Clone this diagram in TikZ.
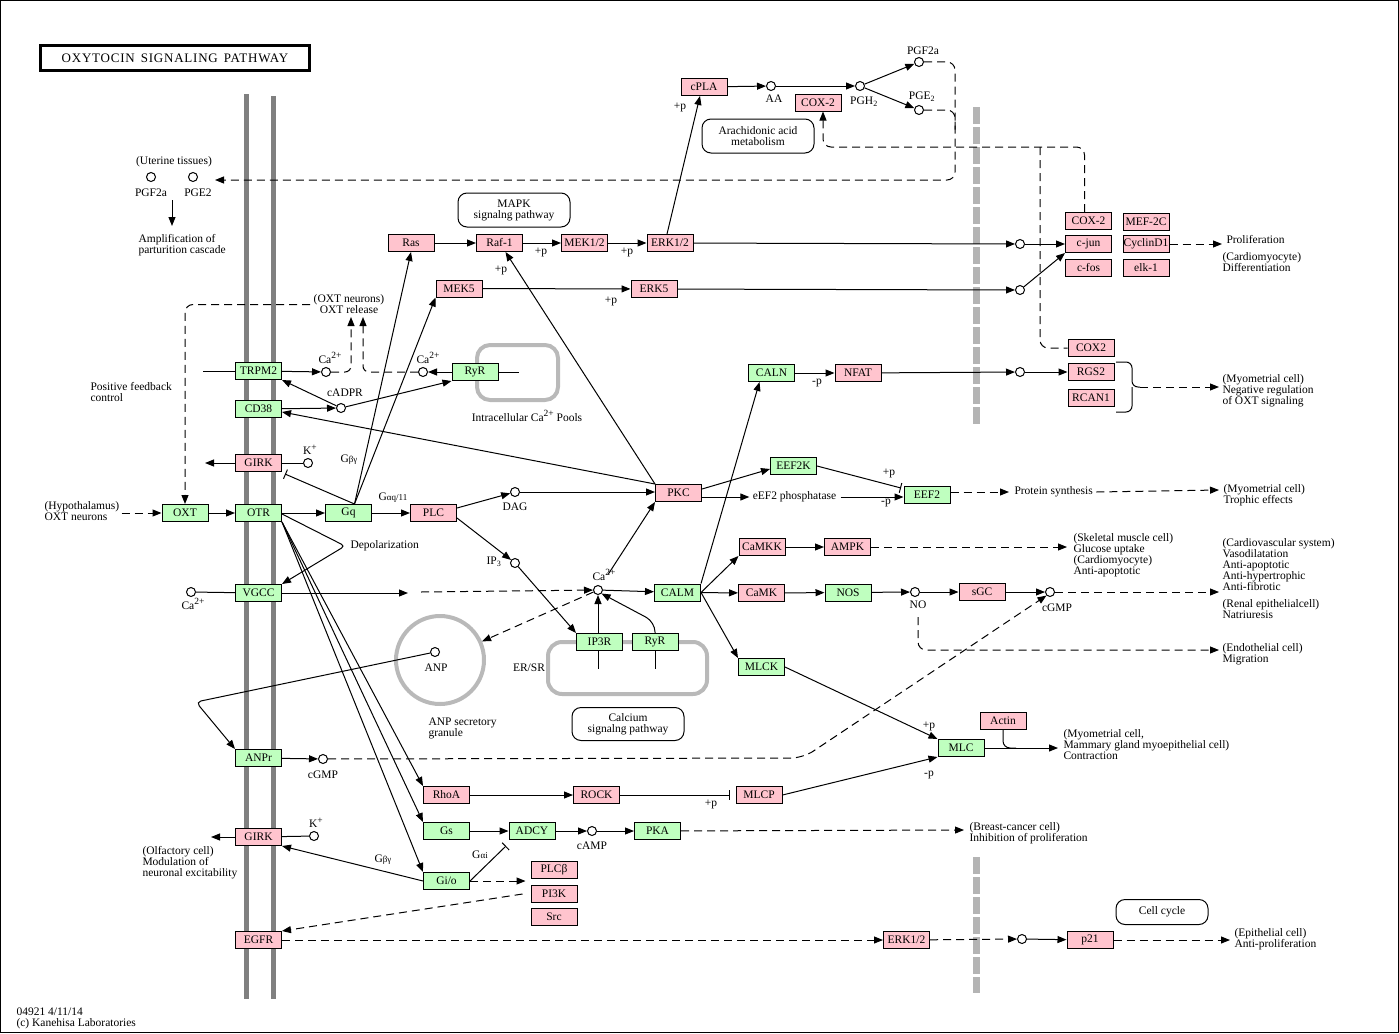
\documentclass[tikz,border=0pt]{standalone}
\usepackage{fontspec}
\setmainfont{Liberation Serif}
\usetikzlibrary{arrows.meta}

\definecolor{kgreen}{RGB}{191,255,191}
\definecolor{kpink}{RGB}{255,196,206}
\definecolor{memgray}{RGB}{128,128,128}
\definecolor{poolgray}{RGB}{185,185,185}
\definecolor{bargray}{RGB}{180,180,180}

\tikzset{
  every node/.style={font=\fontsize{11.5}{11}\selectfont},
  gbox/.style={draw, fill=kgreen, minimum width=46pt, minimum height=17pt, inner sep=0pt},
  pbox/.style={draw, fill=kpink, minimum width=46pt, minimum height=17pt, inner sep=0pt},
  mol/.style={draw, circle, fill=white, inner sep=0pt, minimum size=9pt},
  txt/.style={inner sep=0pt, align=left},
  pathbox/.style={draw, rounded corners=9pt, align=center, inner sep=0pt},
  small/.style={inner sep=0pt},
  arr/.style={-{Triangle[length=9pt,width=7pt]}},
  inh/.style={-{Bar[width=10pt]}},
  dsh/.style={dash pattern=on 8pt off 5pt},
}
\newcommand{\sm}[1]{{\fontsize{9}{9}\selectfont #1}}
\newcommand{\up}[1]{\raisebox{4.5pt}{\fontsize{9.5}{9}\selectfont #1}}

\begin{document}
\begin{tikzpicture}[x=1pt, y=-1pt, line width=1pt]
\useasboundingbox (0,0) rectangle (1399,1033);
\draw[line width=1pt] (0.5,0.5) rectangle (1398.5,1032.5);

% membranes and compartments
\draw[memgray, line width=5pt] (246.5,94) -- (246.5,999);
\draw[memgray, line width=5pt] (273.5,96) -- (273.5,999);
\draw[bargray, line width=7pt, dash pattern=on 17pt off 3pt] (976.5,107) -- (976.5,425);
\draw[bargray, line width=7pt, dash pattern=on 17pt off 3pt] (976.5,857) -- (976.5,993);
\draw[poolgray, line width=4pt, rounded corners=13pt] (477,345) rectangle (558,400);
\draw[poolgray, line width=4pt, rounded corners=14pt] (548,642) rectangle (707,694);
\node[draw=poolgray, line width=4pt, circle, minimum size=88pt, inner sep=0pt] (gran) at (440,660) {};

\node[draw, line width=2.7pt, minimum width=269pt, minimum height=25pt, inner sep=0pt] (title) at (175,58)
  {\fontsize{13}{12}\selectfont\addfontfeature{LetterSpace=6}OXYTOCIN\hspace{2pt} SIGNALING\hspace{2pt} PATHWAY};

% genes at the membrane
\node[gbox] (trpm2) at (258.5,371) {TRPM2};
\node[gbox] (cd38) at (258.5,409) {CD38};
\node[pbox] (girk) at (258.5,463) {GIRK};
\node[gbox] (otr) at (258.5,513) {OTR};
\node[gbox] (vgcc) at (258.5,593) {VGCC};
\node[gbox] (anpr) at (258.5,758) {ANPr};
\node[pbox] (girkb) at (258.5,837) {GIRK};
\node[pbox] (egfr) at (258.5,940) {EGFR};
\node[gbox] (oxt) at (185,513) {OXT};

% cytoplasm
\node[gbox] (gq) at (348.5,513) {Gq};
\node[pbox] (plc) at (433.5,513) {PLC};
\node[pbox] (ras) at (411,243) {Ras};
\node[pbox] (raf) at (499.5,243) {Raf-1};
\node[pbox] (mek) at (584.5,243) {MEK1/2};
\node[pbox] (erk) at (670,243) {ERK1/2};
\node[pbox] (mekf) at (459,288.5) {MEK5};
\node[pbox] (erkf) at (654,289) {ERK5};
\node[pbox] (cpla) at (704,87) {cPLA};
\node[pbox] (coxa) at (818,102.5) {COX-2};
\node[gbox] (ryr) at (475,372) {RyR};
\node[pbox] (pkc) at (678.5,493) {PKC};
\node[gbox] (caln) at (771.5,373) {CALN};
\node[pbox] (nfat) at (858,373) {NFAT};
\node[gbox] (eefk) at (793.5,466) {EEF2K};
\node[gbox] (eef) at (927,494.5) {EEF2};
\node[pbox] (camkk) at (762,547) {CaMKK};
\node[pbox] (ampk) at (847.5,547) {AMPK};
\node[gbox] (calm) at (677.5,592.5) {CALM};
\node[pbox] (camk) at (761.5,593) {CaMK};
\node[gbox] (nos) at (848,592.5) {NOS};
\node[pbox] (sgc) at (982,592) {sGC};
\node[gbox] (ipr) at (599.5,642) {IP3R};
\node[gbox] (ryrb) at (655,642) {RyR};
\node[gbox] (mlck) at (761.5,667) {MLCK};
\node[gbox] (mlc) at (961,748) {MLC};
\node[pbox] (actin) at (1003,721) {Actin};
\node[pbox] (mlcp) at (759,795) {MLCP};
\node[pbox] (rhoa) at (446.5,795) {RhoA};
\node[pbox] (rock) at (596.5,795) {ROCK};
\node[gbox] (gs) at (446.5,831) {Gs};
\node[gbox] (adcy) at (532,831) {ADCY};
\node[gbox] (pka) at (657.5,831) {PKA};
\node[gbox] (gio) at (446.5,881) {Gi/o};
\node[pbox] (plcb) at (554,870) {PLCβ};
\node[pbox] (pik) at (554,894) {PI3K};
\node[pbox] (src) at (554,917) {Src};
\node[pbox] (erkb) at (906.5,940) {ERK1/2};
\node[pbox] (p21) at (1090,940) {p21};

% nucleus
\node[pbox] (coxb) at (1088.5,221) {COX-2};
\node[pbox] (cjun) at (1088.5,244) {c-jun};
\node[pbox] (cfos) at (1088.5,268) {c-fos};
\node[pbox] (mef) at (1146,222) {MEF-2C};
\node[pbox] (ccnd) at (1146,244) {CyclinD1};
\node[pbox] (elk) at (1146,268) {elk-1};
\node[pbox] (coxc) at (1091,348) {COX2};
\node[pbox] (rgs) at (1091,372) {RGS2};
\node[pbox] (rcan) at (1091,398) {RCAN1};

% compounds
\node[mol] (pgfu) at (151,177) {};
\node[mol] (pgeu) at (193,177) {};
\node[mol] (caa) at (326,372) {};
\node[mol] (cab) at (423,372) {};
\node[mol] (cadpr) at (341,408) {};
\node[mol] (kp) at (308,463) {};
\node[mol] (cac) at (191,592) {};
\node[mol] (dag) at (515,492) {};
\node[mol] (ipt) at (515,563) {};
\node[mol] (cad) at (598,590) {};
\node[mol] (aa) at (771,86) {};
\node[mol] (pgh) at (860,86) {};
\node[mol] (pgf) at (919,62) {};
\node[mol] (pge) at (919,110) {};
\node[mol] (anp) at (435,652) {};
\node[mol] (cgmpa) at (323,759) {};
\node[mol] (kpb) at (314,836) {};
\node[mol] (camp) at (592,831) {};
\node[mol] (no) at (915,592) {};
\node[mol] (cgmpb) at (1050,592) {};
\node[mol] (ja) at (1020,244) {};
\node[mol] (jb) at (1020,290) {};
\node[mol] (jc) at (1020,372) {};
\node[mol] (jd) at (1022,939) {};

% linked pathways
\node[pathbox, minimum width=112pt, minimum height=34pt] (mapk) at (514,210) {MAPK\\signalng pathway};
\node[pathbox, minimum width=112pt, minimum height=34pt] (arach) at (758,136) {Arachidonic acid\\metabolism};
\node[pathbox, minimum width=112pt, minimum height=33pt] (calsig) at (628,724) {Calcium\\signalng pathway};
\node[pathbox, minimum width=92pt, minimum height=25pt] (cellc) at (1162,912) {Cell cycle};

% compound labels
\node[small] (lpgfu) at (151,193) {PGF2a};
\node[small] (lpgeu) at (198,193) {PGE2};
\node[small] (lcaa) at (330,358) {Ca\up{2+}};
\node[small] (lcab) at (428,358) {Ca\up{2+}};
\node[small] (lcac) at (193,604) {Ca\up{2+}};
\node[small] (lcad) at (604,575) {Ca\up{2+}};
\node[small] (lkp) at (310,450) {K\up{+}};
\node[small] (lkpb) at (316,823) {K\up{+}};
\node[small] (lcadpr) at (345,393) {cADPR};
\node[small] (ldag) at (515,507) {DAG};
\node[small] (lipt) at (494,562) {IP\textsubscript{3}};
\node[small] (laa) at (774,99) {AA};
\node[small] (lpgh) at (864,102) {PGH\textsubscript{2}};
\node[small] (lpgf) at (923,51) {PGF2a};
\node[small] (lpge) at (922,97) {PGE\textsubscript{2}};
\node[small] (lanp) at (436,668) {ANP};
\node[small] (lcgmpa) at (323,775) {cGMP};
\node[small] (lcamp) at (592,846) {cAMP};
\node[small] (lno) at (918,605) {NO};
\node[small] (lcgmpb) at (1057,608) {cGMP};
\node[small] (lgbg) at (349,460) {G\sm{βγ}};
\node[small] (lgaq) at (393,498) {G\sm{αq/11}};
\node[small] (lgbgb) at (383,860) {G\sm{βγ}};
\node[small] (lgai) at (480,855) {G\sm{αi}};

% phosphorylation marks
\node[small] (pa) at (680,107) {+p};
\node[small] (pb) at (541,252) {+p};
\node[small] (pc) at (627,252) {+p};
\node[small] (pd) at (501,270) {+p};
\node[small] (pe) at (611,301) {+p};
\node[small] (pf) at (817,383) {-p};
\node[small] (pg) at (889,473) {+p};
\node[small] (ph) at (886,503) {-p};
\node[small] (pi) at (929,726) {+p};
\node[small] (pj) at (929,775) {-p};
\node[small] (pk) at (711,804) {+p};

% other texts
\node[small] (tut) at (174,162) {(Uterine tissues)};
\node[txt, anchor=north west] (tamp) at (138,234) {Amplification of\\parturition cascade};
\node[txt, align=center] (toxtrel) at (349,304.5) {(OXT neurons)\\OXT release};
\node[txt, anchor=north west] (tpos) at (90,382) {Positive feedback\\control};
\node[txt, anchor=north west] (thypo) at (44,501) {(Hypothalamus)\\OXT neurons};
\node[small] (tpool) at (527,416) {Intracellular Ca\up{2+} Pools};
\node[txt, anchor=west] (tdepol) at (350,546) {Depolarization};
\node[small] (terse) at (529,668) {ER/SR};
\node[txt, anchor=north west] (tgran) at (428,717) {ANP secretory\\granule};
\node[txt, anchor=north west] (tolf) at (142,846) {(Olfactory cell)\\Modulation of\\neuronal excitability};
\node[txt, anchor=north west] (tfoot) at (16,1007) {04921 4/11/14\\(c) Kanehisa Laboratories};
\node[small] (teph) at (794.5,497) {eEF2 phosphatase};
\node[txt, anchor=west] (tprol) at (1226,240) {Proliferation};
\node[txt, anchor=north west] (tcard) at (1222,252) {(Cardiomyocyte)\\Differentiation};
\node[txt, anchor=north west] (tneg) at (1222,374) {(Myometrial cell)\\Negative regulation\\of OXT signaling};
\node[txt, anchor=west] (tpsyn) at (1014,492) {Protein synthesis};
\node[txt, anchor=north west] (ttroph) at (1223,484) {(Myometrial cell)\\Trophic effects};
\node[txt, anchor=north west] (tskel) at (1073,533) {(Skeletal muscle cell)\\Glucose uptake\\(Cardiomyocyte)\\Anti-apoptotic};
\node[txt, anchor=north west] (tcardio) at (1222,538) {(Cardiovascular system)\\Vasodilatation\\Anti-apoptotic\\Anti-hypertrophic\\Anti-fibrotic};
\node[txt, anchor=north west] (trenal) at (1222,599) {(Renal epithelialcell)\\Natriuresis};
\node[txt, anchor=north west] (tendo) at (1222,643) {(Endothelial cell)\\Migration};
\node[txt, anchor=north west] (tcontr) at (1063,729) {(Myometrial cell,\\Mammary gland myoepithelial cell)\\Contraction};
\node[txt, anchor=north west] (tbreast) at (969,822) {(Breast-cancer cell)\\Inhibition of proliferation};
\node[txt, anchor=north west] (tepi) at (1234,928) {(Epithelial cell)\\Anti-proliferation};

% free ends
\coordinate (ut) at (215,180);
\coordinate (amptop) at (172,200);
\coordinate (ampend) at (172,226);
\coordinate (trin) at (203,371);
\coordinate (rela) at (351,317);
\coordinate (relb) at (363,317);
\coordinate (vga) at (408,593);
\coordinate (vgb) at (421,592);
\coordinate (nod) at (918,617);
\coordinate (oneg) at (1219,387);
\coordinate (otroph) at (1219,490);
\coordinate (oskel) at (1067,547);
\coordinate (ocardio) at (1219,592);
\coordinate (oendo) at (1219,650);
\coordinate (ocontr) at (1058,748);
\coordinate (obreast) at (964,830);
\coordinate (oepi) at (1230,940);

% uterine tissues
\draw[arr] (amptop) -- (ampend);
\draw[dsh,arr,rounded corners=8pt] (pgf) -- (955,62) -- (955,180) -- (ut);
\draw[dsh,rounded corners=8pt] (pge) -- (955,110) -- (955,130);

% arachidonic acid
\draw[arr] ([xshift=-3pt]erk.north) -- ([xshift=-4pt]cpla.south);
\draw[arr] (cpla) -- (aa);
\draw[arr] (aa) -- (pgh);
\draw[arr] (pgh) -- (pgf);
\draw[arr] (pgh) -- (pge);
\draw[dsh,arr,rounded corners=8pt] ([xshift=-4pt]coxb.north) -- (1084.5,147) -- (823,147) -- ([xshift=5pt]coxa.south);
\draw[dsh,rounded corners=8pt] (1040,147) -- (1040,348) -- (coxc.west);

% MAPK cascades
\draw[arr] (ras) -- (raf);
\draw[arr] (raf) -- (mek);
\draw[arr] (mek) -- (erk);
\draw[arr] (erk) -- (ja);
\draw[arr] (ja) -- (cjun);
\draw[arr] (mekf) -- (erkf);
\draw[arr] (erkf) -- (jb);
\draw[arr] (jb) -- (cjun.south west);
\draw[dsh,arr] (ccnd.east) -- ([xshift=-4pt]tprol.west |- ccnd.east);

% calcineurin
\draw[arr] (calm.north east) -- ([xshift=-12pt]caln.south);
\draw[arr] (caln) -- (nfat);
\draw[arr] (nfat) -- (jc);
\draw[arr] (jc) -- (rgs);
\draw[rounded corners=6pt] (1116,362) -- (1132,362) -- (1132,387) -- (1140,387);
\draw[rounded corners=6pt] (1116,412) -- (1132,412) -- (1132,387);
\draw[dsh,arr] (1140,387) -- (oneg);

% receptor and G proteins
\draw[dsh,arr] ([xshift=2pt]thypo.east |- oxt.west) -- (oxt);
\draw[dsh,arr,rounded corners=8pt] ([xshift=-3pt]toxtrel.west) -- (toxtrel.west -| oxt.north) -- (oxt.north);
\draw[arr] (oxt) -- (otr);
\draw[arr] (otr) -- (gq);
\draw[arr] (gq) -- (plc);
\draw[arr] ([xshift=6pt]gq.north) -- (ras.south);
\draw[arr] ([xshift=6pt]gq.north) -- (mekf.south west);
\draw[inh] ([xshift=6pt]gq.north) -- ([shift={(3,2)}]girk.south east);
\draw[arr] (girk.west) -- ++(-30,0);
\draw (kp) -- (girk);
\draw[arr,rounded corners=4pt] ([yshift=-1pt]otr.east) -- (345,546) -- (vgcc.north east);
\draw[arr] (otr.south east) -- (rhoa.north west);
\draw[arr] (otr.south east) -- (gs.north west);
\draw[arr] (otr.south east) -- (gio.north west);

% calcium release
\draw (trin) -- (trpm2);
\draw[arr] (trpm2) -- (caa);
\draw[dsh,arr,rounded corners=6pt] (caa) -- (351,372) -- (rela);
\draw[arr] (ryr) -- (cab);
\draw[dsh,arr,rounded corners=6pt] (cab) -- (363,372) -- (relb);
\draw (ryr.east) -- ++(20,0);
\draw[arr] (cd38) -- (cadpr);
\draw[arr] (cadpr) -- (trpm2.south east);
\draw[arr] (cadpr) -- (ryr.south west);
\draw (cac) -- (vgcc);
\draw[arr] (vgcc) -- (vga);
\draw[dsh,arr] (vgb) -- (cad);
\draw[arr] ([yshift=5pt]plc.east) -- (dag);
\draw[arr] (dag) -- ([yshift=1pt]pkc.west);
\draw[arr] ([yshift=-5pt]plc.east) -- (ipt);
\draw[arr] (ipt) -- (ipr.north west);
\draw[arr] (cad |- ipr.north) -- (cad);
\draw (cad |- ipr.south) -- ++(0,18);
\draw[arr,rounded corners=10pt] (ryrb.north) -- (655,622) -- (cad.south east);
\draw (ryrb.south) -- ++(0,18);
\draw[dsh,arr] (cad) -- (gran);

% PKC and calmodulin
\draw[arr,shorten <=14pt] (cad) -- (pkc.south west);
\draw[arr] (pkc.north west) -- ([xshift=6pt]raf.south);
\draw[arr] (pkc.north west) -- ([yshift=-3pt]cd38.east);
\draw[arr] ([yshift=4pt]pkc.east) -- ([yshift=-3pt]eefk.west);
\draw[arr] ([yshift=-4pt]pkc.east) -- ([xshift=-3pt]teph.west |- 0,497);
\draw[arr] ([xshift=4pt]teph.east) -- (eef.west |- teph.east);
\draw[inh] (eefk.east) -- (901,488);
\draw[dsh,arr] (eef.east |- tpsyn.west) -- ([xshift=-5pt]tpsyn.west);
\draw[dsh,arr] ([xshift=3pt]tpsyn.east) -- (otroph);
\draw[arr] (cad) -- (calm);
\draw[arr] (calm.east) -- (camkk.south west);
\draw[arr] (calm) -- (camk);
\draw[arr] (calm.east) -- (mlck.north west);
\draw[arr] (camkk) -- (ampk);
\draw[dsh,arr] (ampk) -- (oskel);
\draw[arr] (camk) -- (nos);
\draw[arr] (nos) -- (no);
\draw[arr] (no) -- (sgc);
\draw[arr] (sgc) -- (cgmpb);
\draw[dsh,arr] (cgmpb) -- (ocardio);
\draw[dsh,arr,rounded corners=8pt] (nod) -- (918,650) -- (oendo);

% ANP
\draw[arr,rounded corners=5pt] (anp) -- (196,702) -- (anpr.north west);
\draw[arr] (anpr) -- (cgmpa);
\draw[dsh,arr,rounded corners=12pt] (cgmpa) -- (803,758) -- (cgmpb.south west);

% contraction
\draw[arr] (rhoa) -- (rock);
\draw[inh,shorten >=6pt] (rock) -- (mlcp);
\draw[arr] (mlcp.east) -- (mlc.south west);
\draw[arr] (mlck.east) -- (mlc.north west);
\draw[rounded corners=7pt] (actin.south) -- (1003,748) -- (1016,748);
\draw[arr] (mlc) -- (ocontr);

% Gs and Gi/o
\draw[arr] (gs) -- (adcy);
\draw[arr] (adcy) -- (camp);
\draw[arr] (camp) -- (pka);
\draw[dsh,arr] (pka) -- (obreast);
\draw[inh] (gio.east) -- (506,846);
\draw[dsh,arr] (gio.east) -- ([xshift=-5pt]plcb.west |- gio.east);
\draw[dsh,arr] ([xshift=-8pt]pik.west) -- (egfr.north east);
\draw[arr] (gio.west) -- (girkb.south east);
\draw (kpb) -- (girkb);
\draw[arr] (girkb.west) -- ++(-24,0);
\draw[dsh,arr] (egfr) -- (erkb);
\draw[dsh,arr] (erkb) -- (jd);
\draw[arr] (jd) -- (p21);
\draw[dsh,arr] (p21) -- (oepi);

\end{tikzpicture}
\end{document}
